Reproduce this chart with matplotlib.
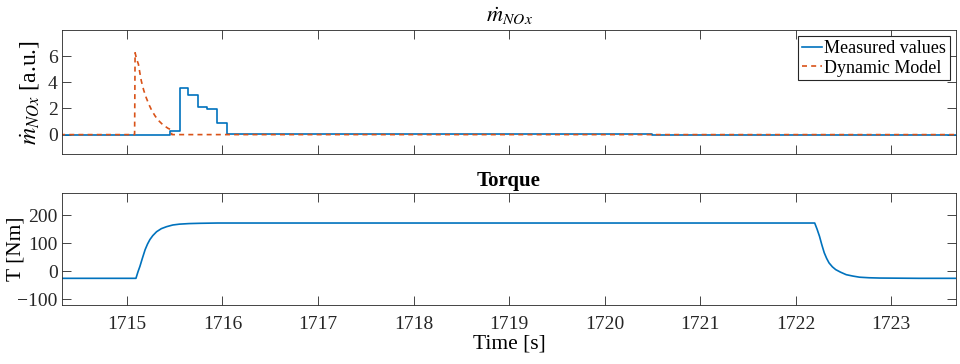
import matplotlib
matplotlib.use("Agg")
from matplotlib import pyplot as plt

plt.rcParams["font.family"] = ["Liberation Serif", "DejaVu Serif"]
plt.rcParams["mathtext.fontset"] = "stix"

# NOx mass flow, measured (step-wise) and dynamic model
t_meas = [1714.3, 1715.45, 1715.45, 1715.55, 1715.55, 1715.64, 1715.64, 1715.74, 1715.74,
          1715.84, 1715.84, 1715.94, 1715.94, 1716.05, 1716.05, 1720.5, 1720.5, 1723.7]
nox_meas = [0.0, 0.0, 0.3, 0.3, 3.55, 3.55, 3.05, 3.05, 2.1, 2.1, 1.95, 1.95, 0.9, 0.9,
            0.05, 0.05, -0.02, -0.02]

t_model = [1714.3, 1715.08, 1715.085, 1715.10, 1715.12, 1715.135, 1715.15, 1715.175,
           1715.20, 1715.23, 1715.26, 1715.295, 1715.33, 1715.365, 1715.40, 1715.43,
           1715.46, 1715.47, 1723.7]
nox_model = [0.0, 0.0, 6.26, 5.80, 5.38, 4.72, 4.11, 3.40, 2.85, 2.30, 1.84, 1.42, 1.08,
             0.83, 0.63, 0.48, 0.38, 0.0, 0.0]

# torque
t_torque = [1714.3, 1715.094, 1715.115, 1715.136, 1715.16, 1715.19, 1715.215, 1715.24,
            1715.27, 1715.31, 1715.36, 1715.415, 1715.48, 1715.55, 1715.65, 1715.76,
            1715.95, 1716.18, 1722.20, 1722.225, 1722.25, 1722.275, 1722.30, 1722.325,
            1722.35, 1722.385, 1722.42, 1722.47, 1722.53, 1722.60, 1722.67, 1722.77,
            1722.88, 1723.29, 1723.7]
torque = [-25, -25, -2, 18, 45, 77, 97, 113, 127, 141, 152, 159, 165, 168, 170, 171,
          172, 172, 172, 150, 125, 94, 66, 46, 30, 16, 6, -3, -12, -17, -21, -23,
          -24, -25, -25]

blue = "#0072BD"
orange = "#D95319"
xlim = (1714.32, 1723.68)

fig = plt.figure(figsize=(9.6, 3.64), dpi=100)
ax1 = fig.add_axes([0.0646, 0.5763, 0.9313, 0.3413])
ax2 = fig.add_axes([0.0646, 0.1621, 0.9313, 0.3085])

ax1.plot(t_meas, nox_meas, color=blue, lw=1.2, label="Measured values")
ax1.plot(t_model, nox_model, color=orange, lw=1.2, ls=(0, (3, 2.5)), label="Dynamic Model")
ax1.set_xlim(*xlim)
ax1.set_ylim(-1.5, 8)
ax1.set_yticks([0, 2, 4, 6])
ax1.set_xticks(range(1715, 1724))
ax1.set_xticklabels([])
ax1.set_title(r"$\dot{m}_{NOx}$", fontsize=16, pad=6)
ax1.set_ylabel(r"$\dot{m}_{NOx}$ [a.u.]", fontsize=17, labelpad=4)
leg = ax1.legend(loc="upper right", fontsize=13, handlelength=1.1, handletextpad=0.15,
                 borderpad=0.2, labelspacing=0.15, fancybox=False, framealpha=1,
                 borderaxespad=0.35)
leg.get_frame().set_edgecolor("#262626")
leg.get_frame().set_linewidth(0.8)

ax2.plot(t_torque, torque, color=blue, lw=1.2)
ax2.set_xlim(*xlim)
ax2.set_ylim(-120, 280)
ax2.set_yticks([-100, 0, 100, 200])
ax2.set_xticks(range(1715, 1724))
ax2.set_title("Torque", fontsize=15, fontweight="bold", pad=5)
ax2.set_ylabel("T [Nm]", fontsize=15.5, labelpad=-6)
ax2.set_xlabel("Time [s]", fontsize=15.5, labelpad=1)

for ax in (ax1, ax2):
    ax.tick_params(direction="in", top=True, right=True, length=6.5, width=0.6,
                   labelsize=14, colors="#262626", pad=3)
    for sp in ax.spines.values():
        sp.set_color("#262626")
        sp.set_linewidth(0.6)
ax2.tick_params(axis="x", pad=8)

fig.savefig("out.png", dpi=100)
